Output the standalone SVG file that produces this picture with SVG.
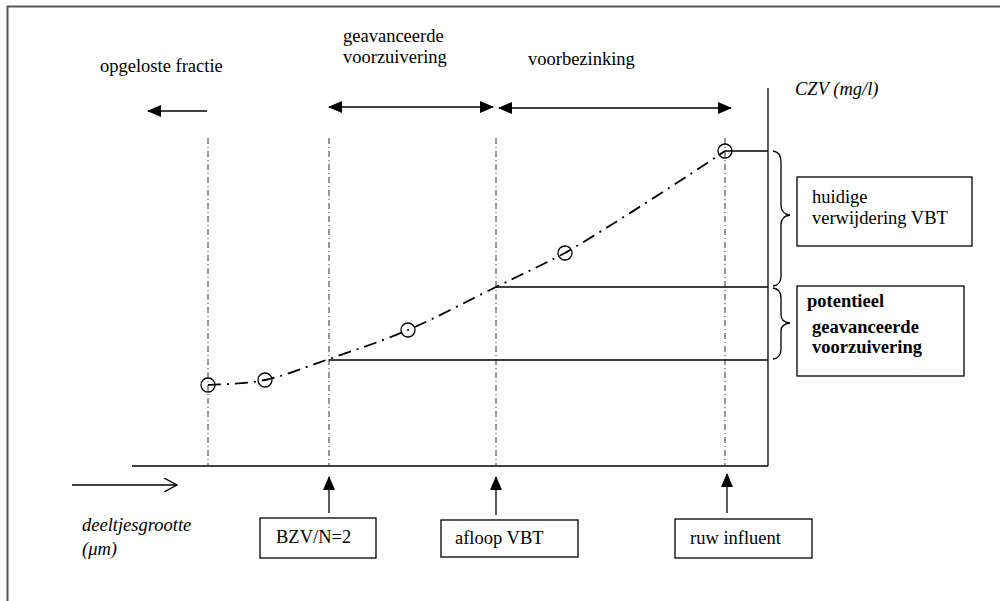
<svg xmlns="http://www.w3.org/2000/svg" width="1000" height="601" viewBox="0 0 1000 601">
<style>
.it{font-style:italic}
.b{font-weight:bold}
.ln{stroke:#000;stroke-width:1.3;fill:none}
.grid{stroke:#333;stroke-width:1;stroke-dasharray:6 3 1 3;fill:none}
.box{fill:#fff;stroke:#000;stroke-width:1.3}
.pt{fill:none;stroke:#000;stroke-width:1.3}
</style>
<defs>
<marker id="ah" viewBox="0 0 14 12" refX="13" refY="6" markerWidth="14" markerHeight="12" markerUnits="userSpaceOnUse" orient="auto-start-reverse">
<path d="M0,0 L14,6 L0,12 Z" fill="#000"/>
</marker>
<marker id="oh" viewBox="0 0 14 14" refX="13" refY="7" markerWidth="14" markerHeight="14" markerUnits="userSpaceOnUse" orient="auto">
<path d="M0,0 L13,7 L0,14" fill="none" stroke="#000" stroke-width="1.3"/>
</marker>
</defs>
<rect width="1000" height="601" fill="#fff"/>
<path d="M7.5,601 V6.5 H1000" fill="none" stroke="#555" stroke-width="2"/>

<g id="axes">
<line class="ln" x1="132" y1="466" x2="768" y2="466"/>
<line class="ln" x1="768" y1="88" x2="768" y2="466"/>
<line class="ln" x1="72" y1="485" x2="177" y2="485" marker-end="url(#oh)"/>
</g>

<g id="gridlines">
<line class="grid" x1="208" y1="138" x2="208" y2="466"/>
<line class="grid" x1="329" y1="138" x2="329" y2="466"/>
<line class="grid" x1="496" y1="138" x2="496" y2="466"/>
<line class="grid" x1="725" y1="138" x2="725" y2="466"/>
</g>

<g id="connectors">
<line class="ln" x1="207" y1="111" x2="148" y2="111" marker-end="url(#ah)"/>
<line class="ln" x1="329" y1="107" x2="493" y2="107" marker-start="url(#ah)" marker-end="url(#ah)"/>
<line class="ln" x1="499" y1="108" x2="731" y2="108" marker-start="url(#ah)" marker-end="url(#ah)"/>
<line class="ln" x1="329" y1="513" x2="329" y2="477" stroke-width="2" marker-end="url(#ah)"/>
<line class="ln" x1="496" y1="515" x2="496" y2="477" stroke-width="2" marker-end="url(#ah)"/>
<line class="ln" x1="727" y1="513" x2="727" y2="474" stroke-width="2" marker-end="url(#ah)"/>
<line class="ln" x1="725" y1="151" x2="768" y2="151"/>
<line class="ln" x1="496" y1="287" x2="768" y2="287"/>
<line class="ln" x1="329" y1="360" x2="768" y2="360"/>
<path class="ln" d="M773,151 Q781,152 781,162 V205 Q781,214 790,215 Q781,216 781,225 V276 Q781,285 773,286"/>
<path class="ln" d="M773,288 Q781,289 781,298 V315 Q781,322 790,323 Q781,324 781,331 V349 Q781,358 773,359"/>
</g>

<g id="curve">
<path d="M208,385 C217.5,384.2 244.8,384.3 265,380 C285.2,375.7 305.2,367.3 329,359 C352.8,350.7 380.2,342 408,330 C435.8,318 469.8,299.8 496,287 C522.2,274.2 540,266 565,253 C603,231 690,175 725,151" fill="none" stroke="#000" stroke-width="1.8" stroke-dasharray="13 6 2 6"/>
<circle class="pt" cx="208" cy="385" r="7"/>
<circle class="pt" cx="265" cy="380" r="7"/>
<circle class="pt" cx="408" cy="330" r="7"/>
<circle class="pt" cx="565" cy="253" r="7"/>
<circle class="pt" cx="725" cy="151" r="7"/>
</g>

<g font-family="'Liberation Serif', 'Times New Roman', serif" font-size="18.5" fill="#000">
<g id="labels">
<text x="100" y="72">opgeloste fractie</text>
<text x="343" y="42">geavanceerde</text>
<text x="343" y="63">voorzuivering</text>
<text x="528" y="65">voorbezinking</text>
<text class="it" x="795" y="95">CZV (mg/l)</text>
<text class="it" x="82" y="531">deeltjesgrootte</text>
<text class="it" x="82" y="555">(μm)</text>
</g>

<g id="box-huidige">
<rect class="box" x="797" y="177" width="175" height="69"/>
<text x="812" y="203">huidige</text>
<text x="812" y="224">verwijdering VBT</text>
</g>

<g id="box-potentieel">
<rect class="box" x="797" y="286" width="167" height="90"/>
<text class="b" x="807" y="307">potentieel</text>
<text class="b" x="812" y="333">geavanceerde</text>
<text class="b" x="812" y="353">voorzuivering</text>
</g>

<g id="box-bzv">
<rect class="box" x="260" y="518" width="116" height="40"/>
<text x="276" y="543">BZV/N=2</text>
</g>

<g id="box-afloop">
<rect class="box" x="441" y="520" width="137" height="37"/>
<text x="455" y="544">afloop VBT</text>
</g>

<g id="box-ruw">
<rect class="box" x="675" y="519" width="137" height="39"/>
<text x="690" y="544">ruw influent</text>
</g>
</g>
</svg>
